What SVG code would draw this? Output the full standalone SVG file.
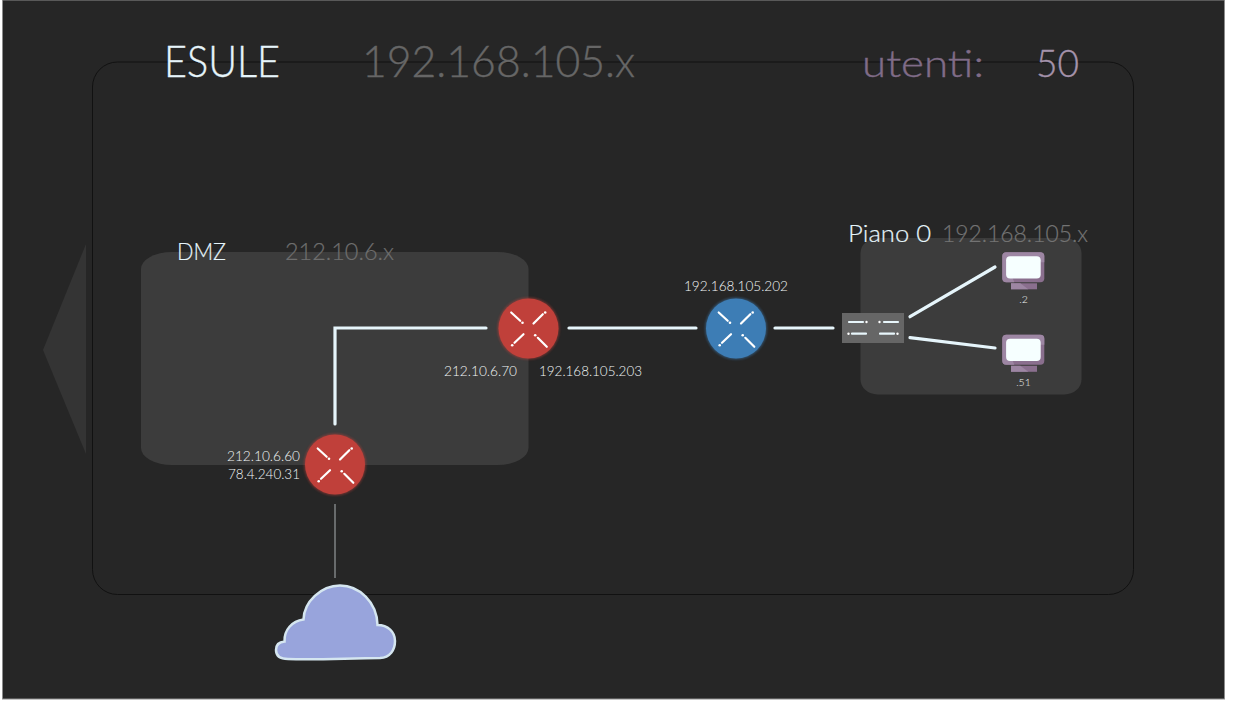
<svg xmlns="http://www.w3.org/2000/svg" width="1260" height="719" viewBox="0 0 1260 719">
<style>
text{font-family:"Lato","Open Sans","Liberation Sans",sans-serif;font-weight:300}
.lbl{font-size:13.5px;fill:#f2f6f7}
.small{font-size:10.5px;fill:#eef2f3;text-anchor:middle}
.big{font-size:42.5px;stroke-width:.35px}
.mid{font-size:38px;stroke-width:.35px}
.sub{font-size:24px;stroke-width:.2px}
.link{fill:none;stroke:#e6f5fb;stroke-width:3.2;stroke-linecap:round;stroke-linejoin:miter}
.x{stroke:#fff;stroke-width:2.200;stroke-linecap:round;fill:none}
.d{fill:#fff}
.swl{stroke:#e8f6fb;stroke-width:2.200;stroke-linecap:round}
</style>
<defs>
<filter id="glow" x="-20%" y="-20%" width="140%" height="140%"><feGaussianBlur stdDeviation="1.200"/></filter>
<g id="xmark">
<path class="x" d="M-17.300-16-8.300-7.700M5-5 14.300-14.300M-5 5.700-14 14.300M18.300 18.300 9.300 9.300"/>
<circle class="d" cx="-6" cy="-5.700" r="1.300"/><circle class="d" cx="16.700" cy="-16" r="1.300"/><circle class="d" cx="-16.300" cy="16.700" r="1.300"/><circle class="d" cx="6.700" cy="6.700" r="1.300"/>
</g>
<g id="monitor">
<rect x="8.700" y="31" width="26" height="6" fill="#8a6f8e"/>
<path d="M8.700 31H18L26 37H8.700Z" fill="#9d86a3"/>
<rect x="0" y="0" width="42" height="30" rx="4" fill="#8a6f8e"/>
<path d="M4 0H38A4 4 0 0 1 42 4V10L4 10 12 30H4A4 4 0 0 1 0 26V4A4 4 0 0 1 4 0Z" fill="#9d86a3"/>
<rect x="3.800" y="4" width="34.600" height="22.200" rx="4" fill="#f6ffff"/>
</g>
</defs>
<rect width="1260" height="719" fill="#fff"/>
<rect x="2.500" y="0" width="1222" height="699" fill="#262626" stroke="#8c8c8c" stroke-width="1"/>
<g id="frame">
<path d="M86 244V454L43 350Z" fill="#343434"/>
<rect x="92.500" y="62" width="1041" height="532.500" rx="25" ry="25" fill="none" stroke="#111" stroke-width="1"/>
<rect x="141" y="252" width="387.500" height="213" rx="31" ry="17" fill="#3c3c3c"/>
<rect x="860.500" y="238" width="221" height="156.500" rx="17" ry="15" fill="#3c3c3c"/>
</g>
<g id="titles">
<text class="big" x="164" y="77" fill="#e6f5fb" stroke="#e6f5fb" textLength="116" lengthAdjust="spacingAndGlyphs">ESULE</text>
<text class="big" x="362" y="77" fill="#666" stroke="#666" textLength="273" lengthAdjust="spacingAndGlyphs">192.168.105.x</text>
<text class="mid" x="862" y="77" fill="#806c88" stroke="#806c88" textLength="122" lengthAdjust="spacingAndGlyphs">utenti:</text>
<text class="mid" x="1036" y="77" fill="#a593ab" stroke="#a593ab" textLength="43" lengthAdjust="spacingAndGlyphs">50</text>
<text class="sub" x="177" y="260" fill="#e6f5fb" stroke="#e6f5fb" textLength="49" lengthAdjust="spacingAndGlyphs">DMZ</text>
<text class="sub" x="285" y="260" fill="#6e6e6e" stroke="#6e6e6e" textLength="109" lengthAdjust="spacingAndGlyphs">212.10.6.x</text>
<text class="sub" x="848" y="242" fill="#e6f5fb" stroke="#e6f5fb" textLength="83" lengthAdjust="spacingAndGlyphs">Piano 0</text>
<text class="sub" x="942" y="242" fill="#737373" stroke="#737373" textLength="146" lengthAdjust="spacingAndGlyphs">192.168.105.x</text>
</g>
<g id="connectors">
<path class="link" d="M335 424V328H486"/>
<path class="link" d="M569 328H696"/>
<path class="link" d="M775 328H833"/>
<path class="link" d="M910 316.700 995 267"/>
<path class="link" d="M910 337.700 995 348"/>
<path d="M335 504V578" fill="none" stroke="#aab0b2" stroke-width="1"/>
</g>
<g id="router-dmz-inner">
<circle cx="528.500" cy="328.500" r="31" fill="#c0403a" opacity=".5" filter="url(#glow)"/>
<circle cx="528.500" cy="328.500" r="30" fill="#c0403a"/>
<use href="#xmark" x="528.500" y="328.500"/>
<text class="lbl" x="444" y="376" textLength="73" lengthAdjust="spacingAndGlyphs">212.10.6.70</text>
<text class="lbl" x="539" y="376" textLength="103" lengthAdjust="spacingAndGlyphs">192.168.105.203</text>
</g>
<g id="router-dmz-outer">
<circle cx="335" cy="464.500" r="31" fill="#c0403a" opacity=".5" filter="url(#glow)"/>
<circle cx="335" cy="464.500" r="30" fill="#c0403a"/>
<use href="#xmark" x="335" y="464.500"/>
<text class="lbl" x="227" y="461" textLength="73" lengthAdjust="spacingAndGlyphs">212.10.6.60</text>
<text class="lbl" x="228" y="479" textLength="72" lengthAdjust="spacingAndGlyphs">78.4.240.31</text>
</g>
<g id="router-lan">
<circle cx="736" cy="328.500" r="31" fill="#3d7db5" opacity=".5" filter="url(#glow)"/>
<circle cx="736" cy="328.500" r="30" fill="#3d7db5"/>
<use href="#xmark" x="736" y="328.500"/>
<text class="lbl" x="684" y="291" textLength="104" lengthAdjust="spacingAndGlyphs">192.168.105.202</text>
</g>
<g id="switch">
<rect x="842" y="313" width="62" height="30" fill="#666"/>
<path class="swl" d="M849 322H863M884 322H898M852 333.700H866M880 333.700H894"/>
<circle class="d" cx="866.500" cy="322" r="1.200"/><circle class="d" cx="879.500" cy="322" r="1.200"/><circle class="d" cx="848.500" cy="333.700" r="1.200"/><circle class="d" cx="897.500" cy="333.700" r="1.200"/>
</g>
<g id="pc-2">
<use href="#monitor" x="1002.300" y="252.300"/>
<text class="small" x="1023.500" y="303">.2</text>
</g>
<g id="pc-51">
<use href="#monitor" x="1002.300" y="334.800"/>
<text class="small" x="1023.500" y="386">.51</text>
</g>
<g id="cloud">
<path d="M340 585.500C321 585.500 304 602 303.500 619.500C292 621 284 630 284.500 641.500C279 642 276 645 276 650C276 656 280 659 288 659C320 660 350 658 380 658C390 657.500 395 650 395 641C395 632 388 625 377.500 625C377 602 359 585.500 340 585.500Z" fill="#98a4dc" stroke="#d5e6f0" stroke-width="2.500"/>
</g>
</svg>
